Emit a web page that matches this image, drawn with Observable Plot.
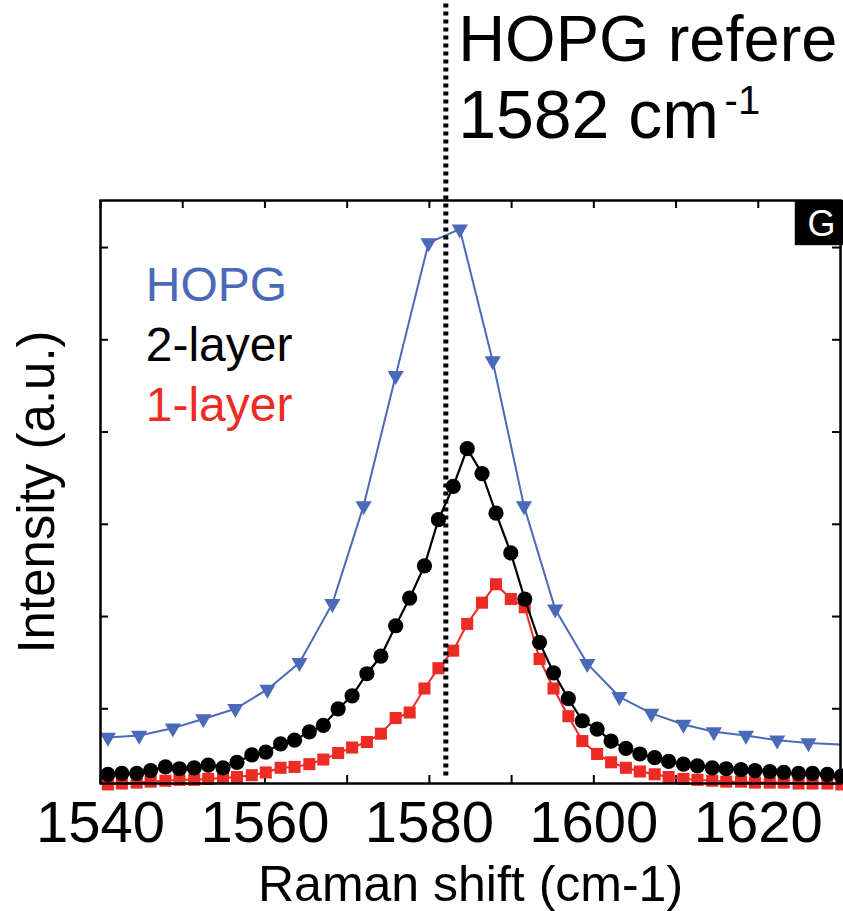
<!DOCTYPE html>
<html><head><meta charset="utf-8">
<script src="https://cdn.jsdelivr.net/npm/d3@7"></script>
<script src="https://cdn.jsdelivr.net/npm/@observablehq/plot@0.6"></script>
<style>
html,body{margin:0;padding:0;background:#fff;}
#chart svg{display:block;}
</style></head><body><div id="chart"></div>
<script>
// Raman shift (cm-1) grid of the 1-layer and 2-layer spectra
const shiftLayer = [
1540.9,1542.6,1544.4,1546.1,1547.9,1549.6,1551.4,1553.1,1554.9,1556.6,
1558.4,1560.1,1561.9,1563.6,1565.4,1567.1,1568.9,1570.6,1572.4,1574.1,
1575.9,1577.6,1579.4,1581.1,1582.9,1584.6,1586.4,1588.1,1589.9,1591.6,
1593.4,1595.1,1596.9,1598.6,1600.4,1602.1,1603.9,1605.6,1607.4,1609.1,
1610.9,1612.6,1614.4,1616.1,1617.9,1619.6,1621.4,1623.1,1624.9,1626.6,
1628.4,1630.1];
// 2-layer intensity (a.u.)
const layer2 = [
0.29,0.30,0.30,0.33,0.37,0.35,0.36,0.39,0.36,0.42,
0.50,0.53,0.62,0.66,0.75,0.82,1.00,1.14,1.38,1.57,
1.90,2.20,2.55,3.05,3.41,3.82,3.55,3.12,2.69,2.19,
1.72,1.39,1.11,0.87,0.78,0.65,0.57,0.51,0.47,0.43,
0.40,0.38,0.36,0.35,0.34,0.33,0.32,0.31,0.30,0.30,
0.29,0.27];
// 1-layer intensity (a.u.)
const layer1 = [
0.18,0.19,0.20,0.21,0.22,0.23,0.23,0.24,0.25,0.26,
0.28,0.31,0.36,0.37,0.40,0.45,0.52,0.58,0.64,0.73,
0.90,0.96,1.22,1.44,1.63,1.92,2.15,2.35,2.19,2.10,
1.54,1.22,0.92,0.65,0.51,0.42,0.36,0.32,0.29,0.26,
0.24,0.23,0.22,0.21,0.21,0.20,0.20,0.20,0.19,0.19,
0.19,0.18];
// HOPG spectrum
const shiftHOPG = [
1540.9,1544.7,1548.8,1552.5,1556.4,1560.3,1564.2,1568.2,1572.0,1575.9,
1579.9,1583.7,1587.7,1591.5,1595.3,1599.2,1603.1,1607.0,1610.9,1614.6,
1618.5,1622.3,1626.1,1630.8];
const hopg = [
0.69,0.71,0.79,0.89,1.00,1.21,1.50,2.14,3.20,4.61,
6.05,6.20,4.77,3.20,2.08,1.49,1.13,0.95,0.83,0.75,
0.71,0.66,0.63,0.61];

const xTicks = [1540,1550,1560,1570,1580,1590,1600,1610,1620,1630];
const xTickLabels = [1540,1560,1580,1600,1620];
const yTicks = [1,2,3,4,5,6];
const seriesNames = ["HOPG","2-layer","1-layer"];
const refShift = [1582];
const refLabel = ["HOPG refere", "1582 cm", "-1"];
const panelLabel = ["G"];
const xTitle = "Raman shift (cm-1)";
const yTitle = "Intensity (a.u.)";

const BLUE = "#4a69b8", RED = "#ec2b24", BLACK = "#000";
const X0 = 1540, X1 = 1630, Y0 = 0.19, Y1 = 6.51;
const tickLenY = 0.087, tickLenX = 0.97;

const rows = (xs, ys) => xs.map((x, i) => ({x, y: ys[i]}));
const d2 = rows(shiftLayer, layer2);
const d1 = rows(shiftLayer, layer1);
const dh = rows(shiftHOPG, hopg);

const chart = Plot.plot({
  width: 843, height: 911,
  marginLeft: 100, marginRight: 3, marginTop: 200, marginBottom: 128,
  style: {fontFamily: "'Liberation Sans', Arial, Helvetica, sans-serif", fontSize: "58px", background: "#fff", color: "#000"},
  x: {domain: [X0, X1], axis: null},
  y: {domain: [Y0, Y1], axis: null},
  marks: [
    // inward ticks
    Plot.ruleX(xTicks, {x: d => d, y1: Y0, y2: Y0 + tickLenY, stroke: BLACK, strokeWidth: 2}),
    Plot.ruleX(xTicks, {x: d => d, y1: Y1 - tickLenY, y2: Y1, stroke: BLACK, strokeWidth: 2}),
    Plot.ruleY(yTicks, {y: d => d, x1: X0, x2: X0 + tickLenX, stroke: BLACK, strokeWidth: 2}),
    Plot.ruleY(yTicks, {y: d => d, x1: X1 - tickLenX, x2: X1, stroke: BLACK, strokeWidth: 2}),
    Plot.axisX(xTickLabels, {anchor: "bottom", tickSize: 0, tickPadding: 17, label: null, fontSize: 58, tickFormat: d => String(d)}),
    // 1-layer
    Plot.line(d1, {x: "x", y: "y", stroke: RED, strokeWidth: 2}),
    Plot.dot(d1, {x: "x", y: "y", symbol: "square", r: 6.8, fill: RED}),
    // 2-layer
    Plot.line(d2, {x: "x", y: "y", stroke: BLACK, strokeWidth: 2.2}),
    Plot.dot(d2, {x: "x", y: "y", symbol: "circle", r: 7.6, fill: BLACK}),
    // HOPG
    Plot.line(dh, {x: "x", y: "y", stroke: BLUE, strokeWidth: 2, clip: true}),
    Plot.dot(dh, {x: "x", y: "y", symbol: "triangle", rotate: 180, r: 6, fill: BLUE, clip: true}),
    // frame
    Plot.frame({stroke: BLACK, strokeWidth: 2.5}),
    // reference line
    Plot.ruleX(refShift, {x: d => d, y1: 0.27, y2: 8.7, stroke: BLACK, strokeWidth: 5, strokeDasharray: "4,4"}),
    Plot.text([refLabel[0]], {x: 1583.5, y: 8.02, text: d => d, textAnchor: "start", lineAnchor: "bottom", fontSize: 65, fill: BLACK}),
    Plot.text([refLabel[1]], {x: 1583.5, y: 7.19, text: d => d, textAnchor: "start", lineAnchor: "bottom", fontSize: 68, fill: BLACK}),
    Plot.text([refLabel[2]], {x: 1615.9, y: 7.45, text: d => d, textAnchor: "start", lineAnchor: "bottom", fontSize: 40, fill: BLACK}),
    // legend
    Plot.text([seriesNames[0]], {x: 1545.5, y: 5.42, text: d => d, textAnchor: "start", lineAnchor: "bottom", fontSize: 48, fill: BLUE}),
    Plot.text([seriesNames[1]], {x: 1545.5, y: 4.77, text: d => d, textAnchor: "start", lineAnchor: "bottom", fontSize: 48, fill: BLACK}),
    Plot.text([seriesNames[2]], {x: 1545.5, y: 4.12, text: d => d, textAnchor: "start", lineAnchor: "bottom", fontSize: 48, fill: RED}),
    // panel label
    Plot.rect(panelLabel, {x1: 1624.5, x2: 1631, y1: 6.02, y2: Y1, fill: BLACK}),
    Plot.text(panelLabel, {x: 1627.7, y: 6.25, text: d => d, fill: "#fff", fontSize: 36, lineAnchor: "middle", textAnchor: "middle"}),
    // axis titles
    Plot.text([xTitle], {frameAnchor: "bottom", dy: 117, text: d => d, lineAnchor: "bottom", fontSize: 50, fill: BLACK}),
    Plot.text([yTitle], {frameAnchor: "left", dx: -47, text: d => d, rotate: -90, textAnchor: "middle", lineAnchor: "bottom", fontSize: 51, fill: BLACK})
  ]
});
document.getElementById("chart").appendChild(chart);
</script>
</body></html>
